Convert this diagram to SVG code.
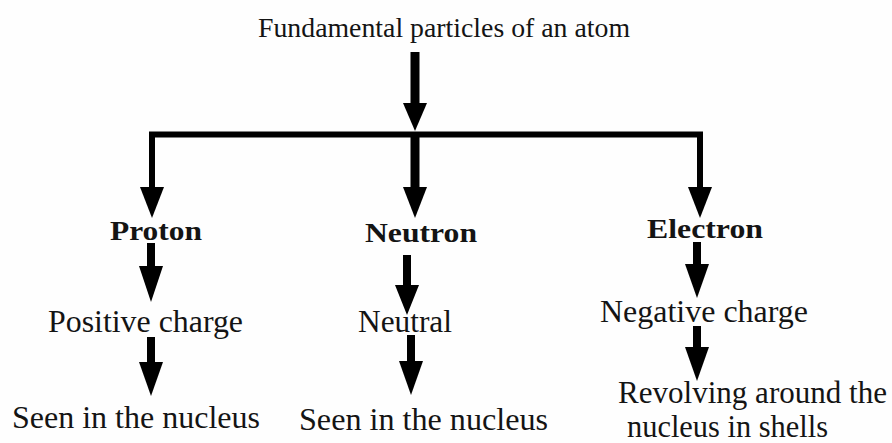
<svg xmlns="http://www.w3.org/2000/svg" xmlns:xlink="http://www.w3.org/1999/xlink" width="892" height="443" viewBox="0 0 892 443">
  <style>
    text { font-family: 'Liberation Serif', 'Times New Roman', Times, serif; fill: #141414; }
    .title { font-size: 27px; }
    .head { font-size: 28px; font-weight: bold; }
    .body { font-size: 31px; }
    .shaft { stroke: #000; stroke-width: 8; fill: none; }
    .thick { stroke: #000; stroke-width: 9; fill: none; }
    .bar { stroke: #000; stroke-width: 6; fill: none; stroke-linejoin: miter; }
  </style>
  <defs>
    <path id="ah" d="M-12,0 L12,0 L0,34 Z" fill="#000"/>
  </defs>
  <rect width="892" height="443" fill="#fefefe"/>
  <g id="connectors">
    <line class="thick" x1="415" y1="52" x2="415" y2="106"/>
    <use xlink:href="#ah" transform="translate(415,103) scale(1,0.82)"/>
    <path class="bar" d="M152,190 V134.5 H700 V190"/>
    <use xlink:href="#ah" transform="translate(152,187) scale(1,0.91)"/>
    <use xlink:href="#ah" transform="translate(700,187) scale(1,0.91)"/>
    <line class="thick" x1="415" y1="134" x2="415" y2="190"/>
    <use xlink:href="#ah" transform="translate(415,187) scale(1,0.91)"/>
    <line class="shaft" x1="151" y1="243" x2="151" y2="268"/>
    <use xlink:href="#ah" transform="translate(151,266) scale(1,1.06)"/>
    <line class="shaft" x1="151" y1="337" x2="151" y2="364"/>
    <use xlink:href="#ah" transform="translate(151,362)"/>
    <line class="shaft" x1="407" y1="255" x2="407" y2="287"/>
    <use xlink:href="#ah" transform="translate(407,285) scale(1,0.88)"/>
    <line class="shaft" x1="411" y1="335" x2="411" y2="363"/>
    <use xlink:href="#ah" transform="translate(411,361)"/>
    <line class="shaft" x1="697" y1="242" x2="697" y2="266"/>
    <use xlink:href="#ah" transform="translate(697,264)"/>
    <line class="shaft" x1="697" y1="326" x2="697" y2="349"/>
    <use xlink:href="#ah" transform="translate(697,347)"/>
  </g>
  <g id="root"><text class="title" x="258" y="37" textLength="372" lengthAdjust="spacingAndGlyphs">Fundamental particles of an atom</text></g>
  <g id="proton"><text class="head" x="110" y="240" textLength="92" lengthAdjust="spacingAndGlyphs">Proton</text></g>
  <g id="neutron"><text class="head" x="365" y="242" textLength="112" lengthAdjust="spacingAndGlyphs">Neutron</text></g>
  <g id="electron"><text class="head" x="647" y="238" textLength="116" lengthAdjust="spacingAndGlyphs">Electron</text></g>
  <g id="positive"><text class="body" x="48" y="332" textLength="195" lengthAdjust="spacingAndGlyphs">Positive charge</text></g>
  <g id="neutral"><text class="body" x="358" y="332" textLength="94" lengthAdjust="spacingAndGlyphs">Neutral</text></g>
  <g id="negative"><text class="body" x="600" y="322" textLength="208" lengthAdjust="spacingAndGlyphs">Negative charge</text></g>
  <g id="proton-nucleus"><text class="body" x="12" y="428" textLength="248" lengthAdjust="spacingAndGlyphs">Seen in the nucleus</text></g>
  <g id="neutron-nucleus"><text class="body" x="299" y="430" textLength="249" lengthAdjust="spacingAndGlyphs">Seen in the nucleus</text></g>
  <g id="electron-shells">
    <text class="body" x="618" y="403" textLength="269" lengthAdjust="spacingAndGlyphs">Revolving around the</text>
    <text class="body" x="627" y="437" textLength="201" lengthAdjust="spacingAndGlyphs">nucleus in shells</text>
  </g>
</svg>
